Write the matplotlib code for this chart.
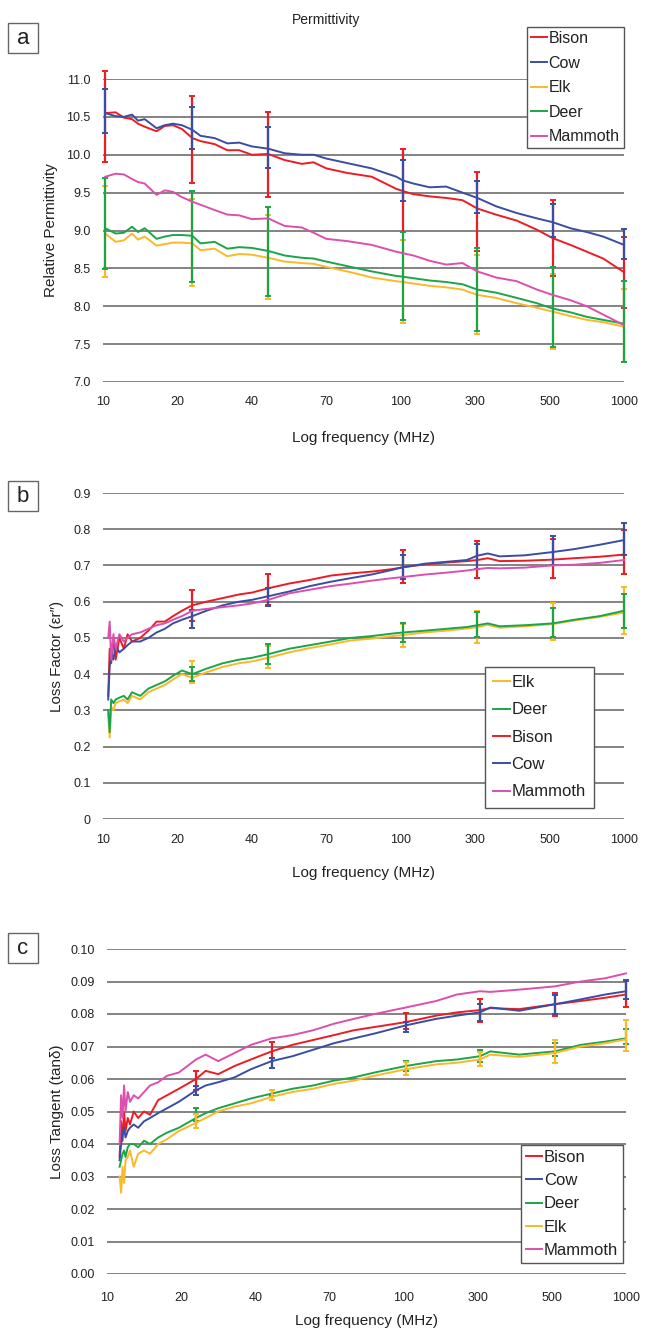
import numpy as np
import matplotlib.pyplot as plt
from matplotlib.patches import Rectangle

W, H = 648, 1331
plt.rcParams['font.family'] = ['Liberation Sans', 'DejaVu Sans']

freq_labels = ['10', '20', '40', '70', '100', '300', '500', '1000']
colors = {'Bison': '#ed1c24', 'Cow': '#3a4ea1', 'Elk': '#fbb829',
          'Deer': '#1ba548', 'Mammoth': '#dc4fae'}

# ---- a: permittivity (x = position on the evenly spaced frequency axis)
x_a = [0.03, 0.17, 0.28, 0.39, 0.47, 0.56, 0.72, 0.83, 0.94, 1.06, 1.2, 1.31, 1.5,
       1.67, 1.83, 2.0, 2.22, 2.44, 2.67, 2.83, 3.0, 3.28, 3.61, 3.94, 4.03, 4.17,
       4.39, 4.61, 4.83, 5.03, 5.28, 5.56, 5.83, 6.04, 6.28, 6.5, 6.72, 7.0]
perm_bison = [10.55, 10.56, 10.49, 10.47, 10.41, 10.37, 10.31, 10.38, 10.39, 10.34,
              10.22, 10.18, 10.14, 10.06, 10.06, 10.00, 10.01, 9.93, 9.88, 9.90,
              9.82, 9.76, 9.71, 9.55, 9.52, 9.48, 9.45, 9.43, 9.40, 9.29,
              9.21, 9.13, 9.01, 8.90, 8.81, 8.72, 8.63, 8.45]
perm_cow = [10.55, 10.51, 10.50, 10.53, 10.45, 10.47, 10.35, 10.39, 10.41, 10.39,
            10.33, 10.25, 10.22, 10.15, 10.16, 10.11, 10.08, 10.02, 10.00, 10.00,
            9.95, 9.89, 9.82, 9.71, 9.66, 9.62, 9.57, 9.58, 9.50, 9.43,
            9.32, 9.23, 9.16, 9.11, 9.03, 8.98, 8.92, 8.81]
perm_elk = [8.96, 8.85, 8.87, 8.96, 8.88, 8.92, 8.80, 8.82, 8.84, 8.84,
            8.83, 8.74, 8.76, 8.66, 8.69, 8.68, 8.64, 8.59, 8.57, 8.56,
            8.52, 8.46, 8.38, 8.33, 8.32, 8.30, 8.27, 8.25, 8.22, 8.15,
            8.11, 8.04, 7.98, 7.93, 7.87, 7.82, 7.79, 7.73]
perm_deer = [9.03, 8.96, 8.97, 9.05, 8.98, 9.03, 8.89, 8.92, 8.94, 8.94,
             8.93, 8.83, 8.85, 8.76, 8.78, 8.77, 8.73, 8.67, 8.64, 8.63,
             8.59, 8.53, 8.46, 8.40, 8.39, 8.37, 8.34, 8.32, 8.29, 8.22,
             8.18, 8.11, 8.04, 7.97, 7.92, 7.86, 7.82, 7.77]
perm_mammoth = [9.71, 9.75, 9.74, 9.68, 9.64, 9.62, 9.47, 9.53, 9.51, 9.44,
                9.38, 9.34, 9.27, 9.21, 9.20, 9.15, 9.16, 9.06, 9.04, 8.97,
                8.89, 8.86, 8.81, 8.72, 8.70, 8.67, 8.60, 8.55, 8.57, 8.46,
                8.38, 8.33, 8.22, 8.15, 8.08, 8.00, 7.89, 7.75]
eb_x_a = [0.03, 1.2, 2.22, 4.03, 5.03, 6.04, 7.0]
perm_err = {
    'Bison': ([10.51, 10.2, 10.0, 9.53, 9.25, 8.9, 8.45], [0.6, 0.57, 0.56, 0.55, 0.52, 0.5, 0.47]),
    'Cow': ([10.58, 10.35, 10.1, 9.66, 9.44, 9.13, 8.82], [0.29, 0.28, 0.27, 0.27, 0.21, 0.22, 0.2]),
    'Elk': ([8.99, 8.84, 8.65, 8.33, 8.16, 7.93, 7.75], [0.6, 0.57, 0.56, 0.55, 0.52, 0.5, 0.48]),
    'Deer': ([9.09, 8.92, 8.72, 8.4, 8.22, 7.99, 7.8], [0.6, 0.6, 0.59, 0.58, 0.55, 0.53, 0.53]),
}

# ---- b: loss factor
x_b = [0.07, 0.09, 0.11, 0.14, 0.17, 0.22, 0.28, 0.33, 0.39, 0.5, 0.61, 0.72, 0.83,
       0.94, 1.06, 1.2, 1.39, 1.61, 1.83, 2.0, 2.22, 2.5, 2.78, 3.06, 3.33, 3.61,
       3.89, 4.03, 4.33, 4.61, 4.89, 5.03, 5.17, 5.33, 5.67, 6.04, 6.33, 6.67, 7.0]
lf_elk = [0.29, 0.225, 0.31, 0.30, 0.32, 0.325, 0.33, 0.32, 0.34, 0.33,
          0.35, 0.36, 0.37, 0.385, 0.40, 0.39, 0.405, 0.42, 0.43, 0.435,
          0.445, 0.46, 0.472, 0.482, 0.493, 0.498, 0.505, 0.508, 0.515, 0.52,
          0.526, 0.53, 0.536, 0.528, 0.532, 0.538, 0.548, 0.558, 0.57]
lf_deer = [0.30, 0.24, 0.33, 0.32, 0.33, 0.335, 0.34, 0.33, 0.35, 0.34,
           0.36, 0.37, 0.38, 0.395, 0.41, 0.40, 0.415, 0.43, 0.44, 0.445,
           0.455, 0.47, 0.48, 0.49, 0.50, 0.505, 0.512, 0.515, 0.52, 0.525,
           0.53, 0.535, 0.54, 0.532, 0.535, 0.54, 0.55, 0.56, 0.575]
lf_bison = [0.34, 0.47, 0.43, 0.50, 0.44, 0.50, 0.47, 0.51, 0.49, 0.50,
            0.52, 0.545, 0.545, 0.56, 0.575, 0.59, 0.60, 0.61, 0.62, 0.625,
            0.637, 0.65, 0.66, 0.672, 0.678, 0.683, 0.69, 0.695, 0.703, 0.708,
            0.712, 0.715, 0.72, 0.712, 0.713, 0.716, 0.72, 0.724, 0.73]
lf_cow = [0.33, 0.42, 0.46, 0.44, 0.48, 0.46, 0.47, 0.48, 0.49, 0.49,
          0.50, 0.515, 0.525, 0.54, 0.55, 0.56, 0.575, 0.59, 0.60, 0.605,
          0.615, 0.628, 0.643, 0.655, 0.665, 0.675, 0.688, 0.695, 0.705, 0.71,
          0.715, 0.727, 0.733, 0.725, 0.728, 0.737, 0.745, 0.757, 0.77]
lf_mammoth = [0.50, 0.545, 0.44, 0.51, 0.47, 0.51, 0.49, 0.50, 0.51, 0.515,
              0.525, 0.535, 0.54, 0.55, 0.56, 0.575, 0.58, 0.585, 0.59, 0.595,
              0.605, 0.623, 0.633, 0.643, 0.65, 0.658, 0.665, 0.668, 0.675, 0.68,
              0.686, 0.69, 0.693, 0.692, 0.694, 0.70, 0.702, 0.707, 0.715]
eb_x = [1.2, 2.22, 4.03, 5.03, 6.04, 7.0]
lf_err = {
    'Elk': ([0.405, 0.447, 0.507, 0.53, 0.545, 0.575], [0.03, 0.03, 0.032, 0.045, 0.05, 0.065]),
    'Deer': ([0.40, 0.455, 0.515, 0.537, 0.543, 0.575], [0.02, 0.028, 0.027, 0.035, 0.04, 0.047]),
    'Bison': ([0.59, 0.633, 0.697, 0.716, 0.719, 0.737], [0.042, 0.043, 0.045, 0.052, 0.055, 0.06]),
    'Cow': ([0.552, 0.613, 0.696, 0.725, 0.74, 0.774], [0.024, 0.025, 0.033, 0.034, 0.04, 0.044]),
}

# ---- c: loss tangent
x_c = [0.17, 0.19, 0.21, 0.23, 0.25, 0.28, 0.31, 0.36, 0.42, 0.5, 0.58, 0.69, 0.81,
       0.97, 1.2, 1.33, 1.5, 1.72, 1.94, 2.22, 2.5, 2.78, 3.06, 3.33, 3.61, 4.03,
       4.44, 4.72, 5.03, 5.17, 5.56, 6.04, 6.39, 6.72, 7.0]
lt_bison = [0.036, 0.047, 0.041, 0.050, 0.044, 0.048, 0.046, 0.050, 0.048, 0.050,
            0.049, 0.0535, 0.055, 0.057, 0.060, 0.0625, 0.0615, 0.064, 0.066, 0.0685,
            0.0705, 0.072, 0.0735, 0.075, 0.076, 0.0775, 0.0795, 0.0805, 0.0812, 0.0818,
            0.0815, 0.083, 0.084, 0.085, 0.086]
lt_cow = [0.035, 0.040, 0.043, 0.045, 0.042, 0.044, 0.045, 0.046, 0.045, 0.047,
          0.048, 0.0495, 0.051, 0.053, 0.0565, 0.058, 0.059, 0.0605, 0.063, 0.0655,
          0.067, 0.069, 0.071, 0.0725, 0.074, 0.0765, 0.0785, 0.0795, 0.0805, 0.082,
          0.081, 0.083, 0.0845, 0.086, 0.087]
lt_deer = [0.033, 0.035, 0.037, 0.038, 0.036, 0.039, 0.040, 0.040, 0.039, 0.041,
           0.040, 0.042, 0.0435, 0.045, 0.048, 0.0495, 0.051, 0.0525, 0.054, 0.0555,
           0.057, 0.058, 0.0595, 0.0605, 0.062, 0.064, 0.0655, 0.066, 0.067, 0.0685,
           0.0675, 0.0685, 0.0705, 0.0715, 0.0725]
lt_elk = [0.030, 0.025, 0.033, 0.028, 0.035, 0.036, 0.038, 0.033, 0.037, 0.038,
          0.037, 0.040, 0.0415, 0.044, 0.0465, 0.048, 0.050, 0.0515, 0.0525, 0.0545,
          0.056, 0.057, 0.0585, 0.0595, 0.061, 0.063, 0.0645, 0.065, 0.066, 0.0675,
          0.0668, 0.068, 0.070, 0.071, 0.0722]
lt_mammoth = [0.040, 0.055, 0.048, 0.058, 0.050, 0.056, 0.053, 0.055, 0.054, 0.056,
              0.058, 0.059, 0.061, 0.062, 0.066, 0.0675, 0.0655, 0.068, 0.0705, 0.0725,
              0.0735, 0.075, 0.077, 0.0785, 0.080, 0.082, 0.084, 0.086, 0.087, 0.0868,
              0.0875, 0.0885, 0.090, 0.091, 0.0925]
lt_err = {
    'Bison': ([0.0595, 0.069, 0.0778, 0.081, 0.083, 0.0863], [0.003, 0.0025, 0.0025, 0.0035, 0.0035, 0.004]),
    'Cow': ([0.0565, 0.065, 0.076, 0.0805, 0.083, 0.0875], [0.0015, 0.0015, 0.0015, 0.0025, 0.003, 0.003]),
    'Deer': ([0.049, 0.0557, 0.064, 0.067, 0.069, 0.0732], [0.002, 0.001, 0.0015, 0.0018, 0.002, 0.0023]),
    'Elk': ([0.047, 0.055, 0.0633, 0.0662, 0.0685, 0.0734], [0.0022, 0.0015, 0.002, 0.0022, 0.0035, 0.0047]),
}


def box(l, t, r, b):
    return [l / W, 1 - b / H, (r - l) / W, (b - t) / H]


def panel(ax, x, series, errs, ebx, yticks, ylabels, ylabel, pad):
    for i, (name, vals) in enumerate(series.items()):
        ax.plot(x, vals, color=colors[name], lw=1.4, label=name, zorder=3 + i, clip_on=False)
        if name in errs:
            c, e = errs[name]
            cont = ax.errorbar(ebx, c, yerr=e, fmt='none', ecolor=colors[name],
                               elinewidth=1.6, capsize=2.5, capthick=1.4, zorder=3 + i)
            for art in list(cont.lines[1]) + list(cont.lines[2]):
                art.set_clip_on(False)
    ax.set_xlim(0, 7)
    ax.set_ylim(yticks[0], yticks[-1])
    ax.set_yticks(yticks)
    ax.set_yticklabels(ylabels)
    ax.set_xticks(range(len(freq_labels)))
    ax.set_xticklabels(freq_labels)
    ax.grid(axis='y', color='#7a7a7a', lw=1.3)
    ax.set_axisbelow(True)
    for s in ax.spines.values():
        s.set_visible(False)
    ax.tick_params(axis='both', length=0, labelsize=9, colors='#222222')
    ax.tick_params(axis='x', pad=pad)
    ax.tick_params(axis='y', pad=9)
    ax.set_xlabel('Log frequency (MHz)', fontsize=11, color='#222222')
    ax.set_ylabel(ylabel, fontsize=11, color='#222222')


fig = plt.figure(figsize=(W / 100, H / 100), dpi=100)
ax_a = fig.add_axes(box(103, 79, 624, 382))
ax_b = fig.add_axes(box(103, 493, 624, 819))
ax_c = fig.add_axes(box(107, 949, 626, 1274))

yt_a = [7.0, 7.5, 8.0, 8.5, 9.0, 9.5, 10.0, 10.5, 11.0]
panel(ax_a, x_a, {'Bison': perm_bison, 'Cow': perm_cow, 'Elk': perm_elk,
                  'Deer': perm_deer, 'Mammoth': perm_mammoth},
      perm_err, eb_x_a, yt_a, ['%.1f' % v for v in yt_a], 'Relative Permittivity', 10)

yt_b = [0, 0.1, 0.2, 0.3, 0.4, 0.5, 0.6, 0.7, 0.8, 0.9]
panel(ax_b, x_b, {'Elk': lf_elk, 'Deer': lf_deer, 'Bison': lf_bison,
                  'Cow': lf_cow, 'Mammoth': lf_mammoth},
      lf_err, eb_x, yt_b, ['0'] + ['%.1f' % v for v in yt_b[1:]], 'Loss Factor (εr″)', 11)

yt_c = [0.0, 0.01, 0.02, 0.03, 0.04, 0.05, 0.06, 0.07, 0.08, 0.09, 0.10]
panel(ax_c, x_c, {'Bison': lt_bison, 'Cow': lt_cow, 'Deer': lt_deer,
                  'Elk': lt_elk, 'Mammoth': lt_mammoth},
      lt_err, eb_x, yt_c, ['%.2f' % v for v in yt_c], 'Loss Tangent (tanδ)', 13)

# axis label positions (pixel centres)
for ax, ypx, xlab_px in ((ax_a, 51, 438), (ax_b, 57, 873), (ax_c, 57, 1321)):
    pos = ax.get_position()
    ax.yaxis.label.set_va('center')
    ax.yaxis.set_label_coords((ypx / W - pos.x0) / pos.width, 0.5)
    ax.xaxis.label.set_va('center')
    ax.xaxis.set_label_coords(0.5, ((1 - xlab_px / H) - pos.y0) / pos.height)

# legends
leg_specs = [(ax_a, 527, 27, 11.5, 0.25, 0.6), (ax_b, 485, 667, 12, 0.49, 0.74),
             (ax_c, 521, 1145, 12, 0.28, 0.5)]
for ax, lx, ly, fs, bp, ls in leg_specs:
    leg = ax.legend(loc='upper left', bbox_to_anchor=(lx / W, 1 - ly / H),
                    bbox_transform=fig.transFigure, borderaxespad=0, fontsize=fs,
                    frameon=True, fancybox=False, borderpad=bp, labelspacing=ls,
                    handlelength=1.0, handletextpad=0.1)
    leg.get_frame().set_edgecolor('#555555')
    leg.get_frame().set_linewidth(1.0)
    leg.get_frame().set_alpha(1)
    leg.set_zorder(20)
    for t in leg.get_texts():
        t.set_color('#222222')

fig.text(326 / W, 1 - 20 / H, 'Permittivity', ha='center', va='center', fontsize=10,
         color='#222222')

# panel letters
for letter, top in (('a', 23), ('b', 481), ('c', 933)):
    fig.add_artist(Rectangle((8 / W, 1 - (top + 30) / H), 30 / W, 30 / H,
                             transform=fig.transFigure, fc='white', ec='#666666', lw=1.0))
    fig.text(23 / W, 1 - (top + 15) / H, letter, ha='center', va='center', fontsize=16,
             color='#222222')

fig.savefig('out.png', dpi=100)
